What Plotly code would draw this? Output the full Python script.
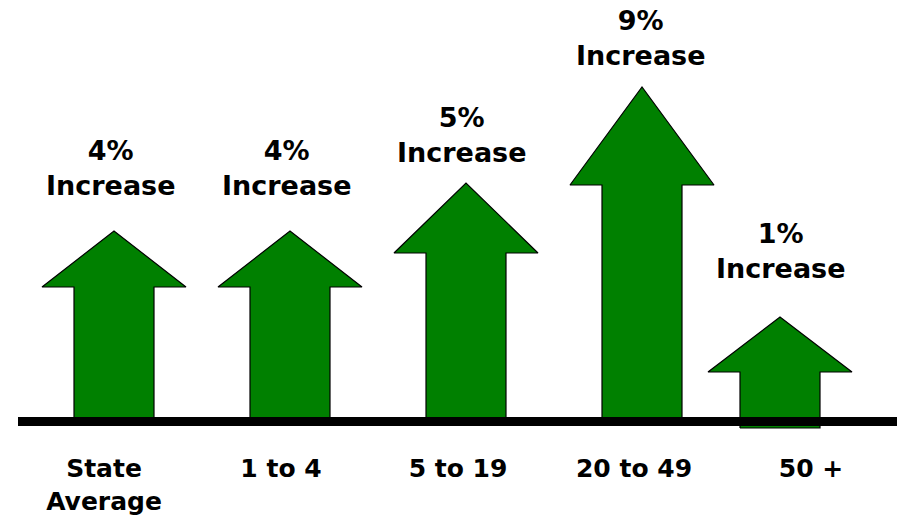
import plotly.graph_objects as go

# ---- data ----
categories = ["State<br>Average", "1 to 4", "5 to 19", "20 to 49", "50 +"]
pct_increase = [4, 4, 5, 9, 1]
arrow_length = [186, 186, 234, 330, 100]   # drawn arrow length (chart units)

# ---- layout / style constants ----
arrow_x = [114, 290, 466, 642, 780]
text_x = [111, 287, 462, 641, 781]
tick_x = [104, 281, 458, 634, 811]
head_len = [56, 56, 70, 98, 55]
arrow_bottom = [-5, -5, -5, -5, -11]
label_offset = [63, 63, 48, 49, 66]
HEAD_HALF = 72
SHAFT_HALF = 40
GREEN = "#008000"
FONT = "DejaVu Sans"

fig = go.Figure()
for cx, L, h, b in zip(arrow_x, arrow_length, head_len, arrow_bottom):
    xs = [cx - SHAFT_HALF, cx - SHAFT_HALF, cx - HEAD_HALF, cx, cx + HEAD_HALF,
          cx + SHAFT_HALF, cx + SHAFT_HALF, cx - SHAFT_HALF]
    ys = [b, L - h, L - h, L, L - h, L - h, b, b]
    fig.add_trace(go.Scatter(x=xs, y=ys, mode="lines", fill="toself",
                             fillcolor=GREEN, line=dict(color="black", width=1.2),
                             hoverinfo="skip", showlegend=False))

for tx, L, p, off in zip(text_x, arrow_length, pct_increase, label_offset):
    fig.add_annotation(x=tx, y=L + off, xref="x", yref="y",
                       text=f"<b>{p}%<br>Increase</b>", showarrow=False,
                       yanchor="middle", xanchor="center",
                       font=dict(family=FONT, size=27, color="black"))

# baseline
fig.add_shape(type="line", x0=18, x1=897, y0=-4.5, y1=-4.5, xref="x", yref="y",
              line=dict(color="black", width=9), layer="above")

fig.update_xaxes(range=[0, 897], tickvals=tick_x,
                 ticktext=[f"<b>{c}</b>" for c in categories],
                 tickfont=dict(family=FONT, size=25, color="black"),
                 showgrid=False, zeroline=False, showline=False, ticks="")
fig.update_yaxes(range=[-34, 417], visible=False, showgrid=False)
fig.update_layout(width=897, height=524, margin=dict(l=0, r=0, t=0, b=73),
                  plot_bgcolor="white", paper_bgcolor="white")

fig.write_html("out.html", config={"displayModeBar": False},
               post_script="document.body.style.margin='0';")
